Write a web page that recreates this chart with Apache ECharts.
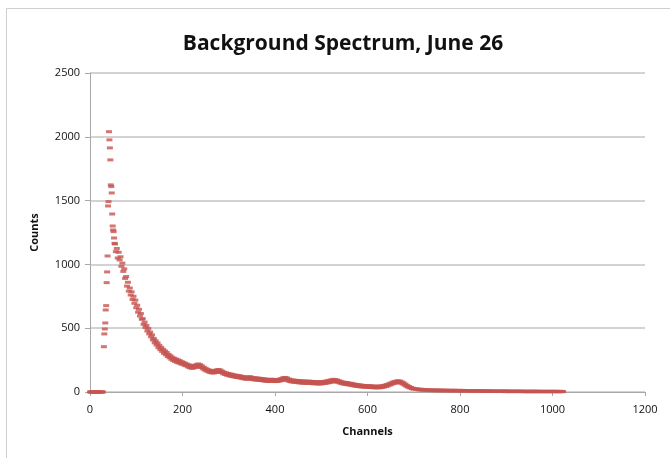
<!DOCTYPE html>
<html>
<head>
<meta charset="utf-8">
<script src="https://cdn.jsdelivr.net/npm/echarts@6/dist/echarts.min.js"></script>
<style>
html,body{margin:0;padding:0;background:#fff;}
#chart{width:670px;height:458px;}
</style>
</head>
<body>
<div id="chart"></div>
<script>
// [channel, counts] pairs
const baseData = [[0,0],[2,0],[4,0],[6,0],[8,0],[10,0],[12,0],[14,0],[16,0],[18,0],[20,0],[22,0],[24,0],[26,0],[28,0]];
const peakData = [[30,355],[31,455],[32,494],[33,541],[34,643],[35,677],[36,857],[37,941],[38,1066],[39,1458],[40,1492],[41,2040],[42,1976],[43,1913],[44,1819],[45,1623],[46,1610],[47,1560],[48,1395],[49,1301],[50,1270],[51,1257],[52,1207],[53,1165]];
const decayData = [[54,1160],[56,1100],[58,1125],[60,1050],[62,1095],[64,1035],[66,1060],[68,985],[70,1010],[72,945],[74,965],[76,890],[78,905],[80,830],[82,860],[84,790],[86,815],[88,760],[90,785],[92,725],[94,750],[96,695],[98,720],[100,660],[102,680],[104,625],[106,648],[108,595],[110,615],[112,570],[114,575],[116,530],[118,548],[120,505],[122,522],[124,478],[126,498],[128,455],[130,470],[132,432],[134,448],[136,408],[138,420],[140,385],[142,402],[144,368],[146,385],[148,348],[150,366],[152,332],[154,350],[156,318],[158,335],[160,303],[162,322],[164,292],[166,310],[168,278],[170,295],[172,268],[174,284],[176,256],[178,272],[180,246],[182,264],[184,240],[186,258],[188,232],[190,252],[192,228],[194,246],[196,221],[198,238],[200,218]];
const midData = [[202,232],[204,210],[206,225],[208,205],[210,218],[212,196],[214,212],[216,190],[218,207],[220,186],[222,205],[224,188],[226,209],[228,192],[230,214],[232,198],[234,220],[236,200],[238,214],[240,192],[242,205],[244,182],[246,194],[248,172],[250,186],[252,165],[254,177],[256,158],[258,172],[260,152],[262,168],[264,150],[266,166],[268,149],[270,167],[272,153],[274,174],[276,157],[278,176],[280,158],[282,172],[284,152],[286,163],[288,143],[290,155],[292,137],[294,150],[296,132],[298,146],[300,128],[302,142],[304,124],[306,139],[308,121],[310,135],[312,118],[314,132],[316,115],[318,130],[320,113],[322,128],[324,111],[326,125],[328,107],[330,121],[332,104],[334,118],[336,101],[338,116],[340,100],[342,118],[344,104],[346,120],[348,102],[350,115],[352,97],[354,112],[356,95],[358,110],[360,94],[362,109],[364,92],[366,108],[368,91],[370,106],[372,89],[374,104],[376,87],[378,102],[380,85],[382,100],[384,83],[386,98],[388,82],[390,99],[392,84],[394,100],[396,85],[398,98],[400,82]];
const humpData = [[402,96],[404,82],[406,97],[408,84],[410,101],[412,88],[414,106],[416,92],[418,112],[420,96],[422,114],[424,95],[426,110],[428,88],[430,102],[432,82],[434,96],[436,79],[438,94],[440,78],[442,92],[444,76],[446,91],[448,74],[450,90],[452,72],[454,88],[456,71],[458,86],[460,70],[462,86],[464,69],[466,85],[468,68],[470,84],[472,67],[474,85],[476,68],[478,83],[480,66],[482,82],[484,65],[486,82],[488,65],[490,81],[492,64],[494,80],[496,63],[498,80],[500,64],[502,81],[504,66],[506,83],[508,68],[510,85],[512,70],[514,88],[516,73],[518,92],[520,76],[522,95],[524,80],[526,99],[528,82],[530,98],[532,80],[534,94],[536,76],[538,89],[540,71],[542,83],[544,66],[546,78],[548,62],[550,76],[552,60],[554,74],[556,58],[558,72],[560,56],[562,69],[564,53],[566,66],[568,50],[570,63],[572,47],[574,60],[576,45],[578,58],[580,43],[582,56],[584,41],[586,54],[588,40],[590,52],[592,39],[594,51],[596,38],[598,50],[600,37],[602,49],[604,36],[606,48],[608,35],[610,47],[612,34],[614,46],[616,33],[618,45],[620,33],[622,45],[624,33],[626,46],[628,34],[630,48],[632,36],[634,50],[636,39],[638,54],[640,43],[642,58],[644,48],[646,64],[648,54],[650,70],[652,60],[654,76],[656,66],[658,82],[660,70],[662,85],[664,73],[666,88],[668,74],[670,86],[672,70],[674,80],[676,63],[678,72],[680,54],[682,62],[684,45],[686,52],[688,37],[690,43],[692,31],[694,36],[696,26],[698,30],[700,22]];
const tailData = [[703,27],[706,19],[709,24],[712,16],[715,22],[718,14],[721,20],[724,13],[727,19],[730,12],[733,18],[736,11],[739,17],[742,11],[745,17],[748,10],[751,16],[754,10],[757,16],[760,9],[763,15],[766,9],[769,15],[772,9],[775,14],[778,8],[781,14],[784,8],[787,14],[790,8],[793,13],[796,7],[799,13],[802,7],[805,13],[808,7],[811,12],[814,7],[817,12],[820,6],[823,12],[826,6],[829,11],[832,6],[835,11],[838,6],[841,11],[844,5],[847,11],[850,5],[853,10],[856,5],[859,10],[862,5],[865,10],[868,4],[871,10],[874,4],[877,9],[880,4],[883,9],[886,4],[889,9],[892,4],[895,9],[898,3],[901,9],[904,3],[907,8],[910,3],[913,8],[916,3],[919,8],[922,3],[925,8],[928,3],[931,8],[934,3],[937,7],[940,2],[943,7],[946,2],[949,7],[952,2],[955,7],[958,2],[961,7],[964,2],[967,7],[970,2],[973,6],[976,2],[979,6],[982,2],[985,6],[988,2],[991,6],[994,2],[997,6],[1000,2],[1003,6],[1006,2],[1009,6],[1012,2],[1015,5],[1018,2],[1021,5],[1023,3]];

const xTicks = [0,200,400,600,800,1000,1200];
const yTicks = [0,500,1000,1500,2000,2500];

const spectrum = baseData.concat(peakData, decayData, midData, humpData, tailData);

const chart = echarts.init(document.getElementById('chart'), null, {renderer:'canvas'});
const font = 'Open Sans';
chart.setOption({
  animation: false,
  backgroundColor: '#ffffff',
  graphic: [{
    type: 'rect', shape: {x: 6.5, y: 8.5, width: 720, height: 500},
    style: {fill: 'none', stroke: '#cfcfcf', lineWidth: 1}, silent: true, z: -1
  }],
  title: {
    text: 'Background Spectrum, June 26',
    left: 338, top: 29, textAlign: 'center',
    textStyle: {fontFamily: font, fontWeight: 'bold', fontSize: 21, color: '#111'}
  },
  grid: {left: 90, right: 25, top: 73, bottom: 66, containLabel: false},
  xAxis: {
    type: 'value', min: xTicks[0], max: xTicks[xTicks.length-1], interval: 200,
    name: 'Channels', nameLocation: 'middle', nameGap: 34,
    nameTextStyle: {fontFamily: font, fontWeight: 'bold', fontSize: 11, color: '#111'},
    axisLine: {show: true, lineStyle: {color: '#a8a8a8', width: 1}},
    axisTick: {show: true, length: 4, lineStyle: {color: '#a8a8a8'}},
    axisLabel: {fontFamily: font, fontSize: 11, color: '#111', margin: 12, formatter: v => String(v)},
    splitLine: {show: false}
  },
  yAxis: {
    type: 'value', min: yTicks[0], max: yTicks[yTicks.length-1], interval: 500,
    name: 'Counts', nameLocation: 'middle', nameGap: 50, nameRotate: 90,
    nameTextStyle: {fontFamily: font, fontWeight: 'bold', fontSize: 11, color: '#111'},
    axisLine: {show: true, lineStyle: {color: '#a8a8a8', width: 1}},
    axisTick: {show: true, length: 5, lineStyle: {color: '#a8a8a8'}},
    axisLabel: {fontFamily: font, fontSize: 11, color: '#111', margin: 10, formatter: v => String(v)},
    splitLine: {show: true, lineStyle: {color: '#c4c4c4', width: 1.5}}
  },
  series: [{
    type: 'scatter',
    data: spectrum,
    symbol: 'rect',
    symbolSize: [6, 3],
    itemStyle: {color: '#C65450'},
    silent: true
  }]
});
</script>
</body>
</html>
